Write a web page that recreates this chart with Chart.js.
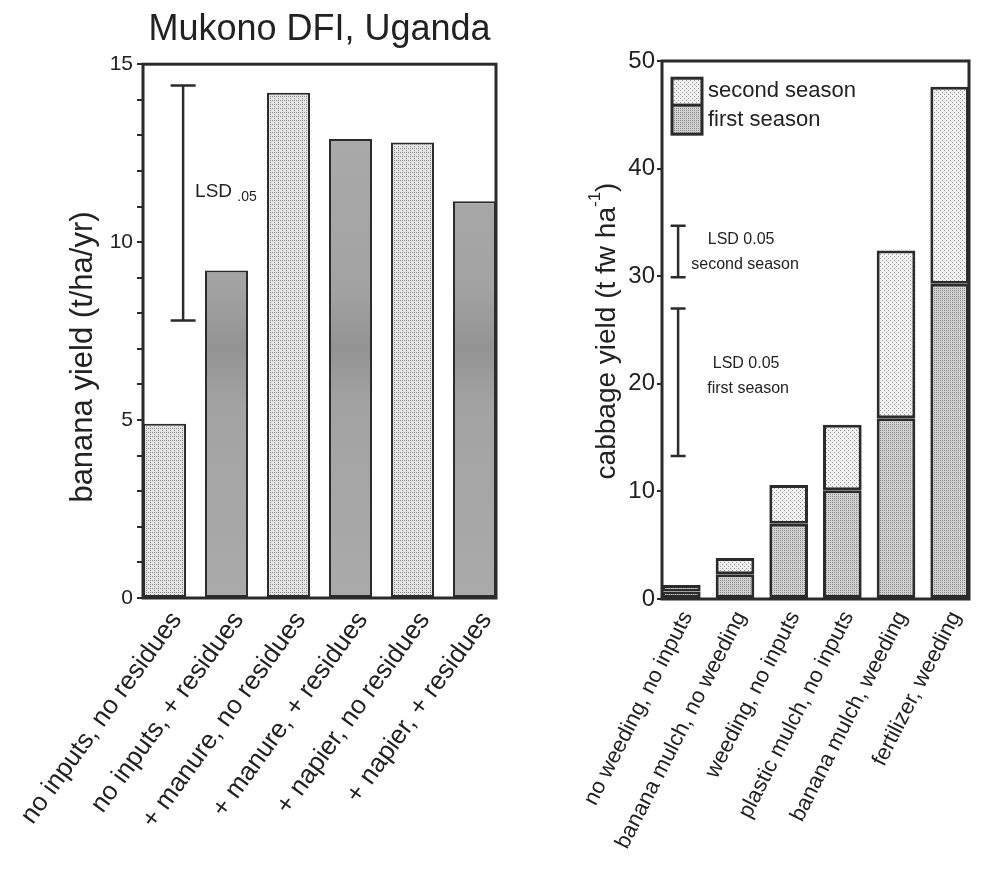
<!DOCTYPE html>
<html>
<head>
<meta charset="utf-8">
<script src="https://cdn.jsdelivr.net/npm/chart.js@4.4.1/dist/chart.umd.min.js"></script>
<style>
  html, body { margin: 0; padding: 0; background: #fff; }
  #wrap { position: relative; width: 987px; height: 873px; }
  #bananaChart { position: absolute; left: 0; top: 0; }
  #cabbageChart { position: absolute; left: 530px; top: 0; }
</style>
</head>
<body>
<div id="wrap">
  <canvas id="bananaChart" width="530" height="873"></canvas>
  <canvas id="cabbageChart" width="457" height="873"></canvas>
</div>
<script>
// Banana data (left panel)
const bananaLabels = [
  "no inputs, no residues",
  "no inputs, + residues",
  "+ manure, no residues",
  "+ manure, + residues",
  "+ napier, no residues",
  "+ napier, + residues",
];
const bananaYield = [4.9, 9.2, 14.2, 12.9, 12.8, 11.15];
const bananaLsd = [7.8, 14.4];

// Cabbage data (right panel)
const cabbageLabels = [
  "no weeding, no inputs",
  "banana mulch, no weeding",
  "weeding, no inputs",
  "plastic mulch, no inputs",
  "banana mulch, weeding",
  "fertilizer, weeding",
];
const firstSeason = [0.7, 2.3, 7.0, 10.1, 16.8, 29.3];
const secondSeason = [0.6, 1.5, 3.6, 6.1, 15.6, 18.3];
const lsdSecond = [29.9, 34.7];
const lsdFirst = [13.3, 27.0];

const FONT = "'Liberation Sans', Arial, Helvetica, sans-serif";
const INK = "#222";
const EDGE = "#2b2b2b";
Chart.defaults.font.family = FONT;
Chart.defaults.color = INK;

function stipple(ctx, base, dot, cells) {
  const c = document.createElement("canvas");
  c.width = 4;
  c.height = 4;
  const g = c.getContext("2d");
  g.fillStyle = base;
  g.fillRect(0, 0, 4, 4);
  g.fillStyle = dot;
  cells.forEach(([x, y]) => g.fillRect(x, y, 1, 1));
  return ctx.createPattern(c, "repeat");
}

function frame(chart) {
  const { ctx, chartArea: a } = chart;
  ctx.save();
  ctx.strokeStyle = EDGE;
  ctx.lineWidth = 3;
  ctx.strokeRect(a.left, a.top, a.right - a.left, a.bottom - a.top);
  ctx.restore();
}

function errorBar(ctx, x, y1, y2, half, width) {
  ctx.save();
  ctx.strokeStyle = EDGE;
  ctx.lineWidth = width;
  ctx.beginPath();
  ctx.moveTo(x, y1); ctx.lineTo(x, y2);
  ctx.moveTo(x - half, y1); ctx.lineTo(x + half, y1);
  ctx.moveTo(x - half, y2); ctx.lineTo(x + half, y2);
  ctx.stroke();
  ctx.restore();
}

function rotatedText(ctx, parts, cx, cy) {
  ctx.save();
  ctx.translate(cx, cy);
  ctx.rotate(-Math.PI / 2);
  ctx.fillStyle = INK;
  ctx.textBaseline = "middle";
  ctx.textAlign = "left";
  let total = 0;
  parts.forEach((p) => { ctx.font = p.font; total += ctx.measureText(p.text).width; });
  let x = -total / 2;
  parts.forEach((p) => {
    ctx.font = p.font;
    ctx.fillText(p.text, x, p.dy || 0);
    x += ctx.measureText(p.text).width;
  });
  ctx.restore();
}

// ---------- Left: banana yield ----------
const bananaCtx = document.getElementById("bananaChart").getContext("2d");
const bananaLight = stipple(bananaCtx, "#e4e4e4", "#8e8e8e", [[0, 0], [2, 2], [2, 0]]);
function bananaDark(c) {
  const area = c.chart.chartArea;
  if (!area) return "#a0a0a0";
  const g = c.chart.ctx.createLinearGradient(0, area.top, 0, area.bottom);
  g.addColorStop(0, "#acacac");
  g.addColorStop(0.42, "#a3a3a3");
  g.addColorStop(0.53, "#939393");
  g.addColorStop(0.64, "#a3a3a3");
  g.addColorStop(1, "#aaaaaa");
  return g;
}
const bananaBarFrac = 0.694;

const bananaPlugin = {
  id: "bananaExtras",
  afterDatasetsDraw(chart) {
    const { ctx } = chart;
    const xs = chart.scales.x, ys = chart.scales.y;
    frame(chart);
    const x = xs.getPixelForValue(0.3);
    errorBar(ctx, x, ys.getPixelForValue(bananaLsd[1]), ys.getPixelForValue(bananaLsd[0]), 12.5, 2.5);
    const ty = ys.getPixelForValue(11.45);
    ctx.save();
    ctx.fillStyle = INK;
    ctx.textBaseline = "alphabetic";
    ctx.font = "19px " + FONT;
    ctx.fillText("LSD", x + 12, ty + 6);
    const w = ctx.measureText("LSD ").width;
    ctx.font = "14px " + FONT;
    ctx.fillText(".05", x + 12 + w, ty + 10);
    ctx.restore();
    rotatedText(ctx, [{ text: "banana yield (t/ha/yr)", font: "31px " + FONT }], 83, 357);
  },
};

const bananaChart = new Chart(bananaCtx, {
  type: "bar",
  data: {
    datasets: [
      {
        data: bananaYield.map((v, i) => ({ x: i, y: v })),
        backgroundColor: (c) => (c.dataIndex % 2 ? bananaDark(c) : bananaLight),
        borderColor: EDGE,
        borderWidth: 2,
        borderSkipped: false,
        categoryPercentage: 1,
        barPercentage: bananaBarFrac,
      },
    ],
  },
  options: {
    responsive: false,
    animation: false,
    layout: { padding: { left: 0, right: 34, top: 0, bottom: 0 } },
    plugins: {
      legend: { display: false },
      tooltip: { enabled: false },
      title: {
        display: true,
        text: "Mukono DFI, Uganda",
        fullSize: false,
        color: INK,
        font: { size: 36, weight: "normal" },
        padding: { top: 8, bottom: 13 },
      },
    },
    scales: {
      x: {
        type: "linear",
        offset: false,
        min: -bananaBarFrac / 2,
        max: bananaLabels.length - 1 + bananaBarFrac / 2,
        grid: { display: false },
        border: { display: false },
        ticks: {
          stepSize: 1,
          includeBounds: false,
          autoSkip: false,
          minRotation: 54,
          maxRotation: 54,
          labelOffset: 12,
          padding: 0,
          font: { size: 26 },
          color: INK,
          callback: (v) => (Number.isInteger(v) ? bananaLabels[v] : ""),
        },
        afterFit: (s) => { s.height = 275; },
      },
      y: {
        min: 0,
        max: 15,
        grid: { drawOnChartArea: false, drawTicks: true, tickLength: 6, color: EDGE, lineWidth: 2 },
        border: { display: false },
        ticks: {
          stepSize: 1,
          padding: 4,
          font: { size: 21 },
          color: INK,
          callback: (v) => (v % 5 === 0 ? v : ""),
        },
        afterFit: (s) => { s.width = 143; },
      },
    },
  },
  plugins: [bananaPlugin],
});

// ---------- Right: cabbage yield ----------
const cabbageCtx = document.getElementById("cabbageChart").getContext("2d");
const firstFill = stipple(cabbageCtx, "#d2d2d2", "#8a8a8a", [[0, 0], [2, 2], [2, 0], [0, 2]]);
const secondFill = stipple(cabbageCtx, "#f1f1f1", "#9a9a9a", [[0, 0], [2, 2]]);
const cabbageBarFrac = 0.72;

const cabbagePlugin = {
  id: "cabbageExtras",
  afterDatasetsDraw(chart) {
    const { ctx } = chart;
    const xs = chart.scales.x, ys = chart.scales.y;
    frame(chart);

    // legend box
    const lx = chart.chartArea.left + 10;
    const yTop = ys.getPixelForValue(48.4);
    const yMid = ys.getPixelForValue(45.9);
    const yBot = ys.getPixelForValue(43.2);
    ctx.save();
    ctx.fillStyle = secondFill;
    ctx.fillRect(lx, yTop, 30, yMid - yTop);
    ctx.fillStyle = firstFill;
    ctx.fillRect(lx, yMid, 30, yBot - yMid);
    ctx.strokeStyle = EDGE;
    ctx.lineWidth = 3;
    ctx.strokeRect(lx, yTop, 30, yBot - yTop);
    ctx.beginPath();
    ctx.moveTo(lx, yMid); ctx.lineTo(lx + 30, yMid);
    ctx.stroke();
    ctx.fillStyle = INK;
    ctx.font = "22px " + FONT;
    ctx.textBaseline = "middle";
    ctx.fillText("second season", lx + 36, ys.getPixelForValue(47.2));
    ctx.fillText("first season", lx + 36, ys.getPixelForValue(44.5));
    ctx.restore();

    // LSD bars
    const ex = xs.getPixelForValue(-0.06);
    errorBar(ctx, ex, ys.getPixelForValue(lsdSecond[1]), ys.getPixelForValue(lsdSecond[0]), 7.5, 2.5);
    errorBar(ctx, ex, ys.getPixelForValue(lsdFirst[1]), ys.getPixelForValue(lsdFirst[0]), 7.5, 2.5);
    ctx.save();
    ctx.fillStyle = INK;
    ctx.font = "16px " + FONT;
    ctx.textAlign = "center";
    ctx.textBaseline = "middle";
    ctx.fillText("LSD 0.05", ex + 63, ys.getPixelForValue(33.4));
    ctx.fillText("second season", ex + 67, ys.getPixelForValue(31.1));
    ctx.fillText("LSD 0.05", ex + 68, ys.getPixelForValue(21.9));
    ctx.fillText("first season", ex + 70, ys.getPixelForValue(19.6));
    ctx.restore();

    rotatedText(ctx, [
      { text: "cabbage yield (t fw ha", font: "28px " + FONT },
      { text: "-1", font: "17px " + FONT, dy: -12 },
      { text: ")", font: "28px " + FONT },
    ], 77, 331);
  },
};

const cabbageChart = new Chart(cabbageCtx, {
  type: "bar",
  data: {
    datasets: [
      {
        label: "first season",
        data: firstSeason.map((v, i) => ({ x: i, y: v })),
        backgroundColor: firstFill,
        borderColor: EDGE,
        borderWidth: 3,
        borderSkipped: false,
        categoryPercentage: 1,
        barPercentage: cabbageBarFrac,
      },
      {
        label: "second season",
        data: secondSeason.map((v, i) => ({ x: i, y: v })),
        backgroundColor: secondFill,
        borderColor: EDGE,
        borderWidth: 3,
        borderSkipped: false,
        categoryPercentage: 1,
        barPercentage: cabbageBarFrac,
      },
    ],
  },
  options: {
    responsive: false,
    animation: false,
    layout: { padding: { left: 0, right: 18, top: 61, bottom: 0 } },
    plugins: {
      legend: { display: false },
      tooltip: { enabled: false },
    },
    scales: {
      x: {
        type: "linear",
        stacked: true,
        offset: false,
        min: -cabbageBarFrac / 2,
        max: cabbageLabels.length - 1 + cabbageBarFrac / 2,
        grid: { display: false },
        border: { display: false },
        ticks: {
          stepSize: 1,
          includeBounds: false,
          autoSkip: false,
          minRotation: 63,
          maxRotation: 63,
          labelOffset: 6,
          padding: 0,
          font: { size: 22 },
          color: INK,
          callback: (v) => (Number.isInteger(v) ? cabbageLabels[v] : ""),
        },
        afterFit: (s) => { s.height = 274; },
      },
      y: {
        stacked: true,
        min: 0,
        max: 50,
        grid: { drawOnChartArea: false, drawTicks: true, tickLength: 5, color: EDGE, lineWidth: 2 },
        border: { display: false },
        ticks: {
          stepSize: 10,
          padding: 2,
          font: { size: 24 },
          color: INK,
        },
        afterFit: (s) => { s.width = 132; },
      },
    },
  },
  plugins: [cabbagePlugin],
});
</script>
</body>
</html>
